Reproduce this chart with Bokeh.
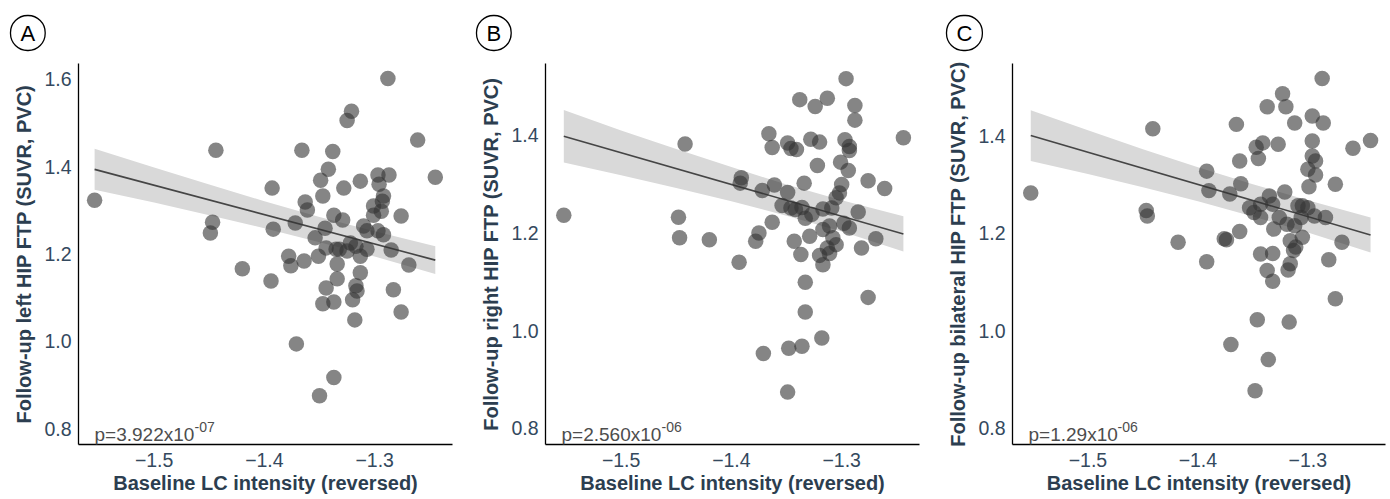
from bokeh.plotting import figure
from bokeh.layouts import row
from bokeh.models import Range1d, FixedTicker, CustomJSTickFormatter, Label
from bokeh.embed import file_html
from bokeh.resources import INLINE

# ---------------- data ----------------
x_ticks = [-1.5, -1.4, -1.3]
a_y_ticks = [0.8, 1.0, 1.2, 1.4, 1.6]
bc_y_ticks = [0.8, 1.0, 1.2, 1.4]

a_x = [-1.554, -1.444, -1.447, -1.449, -1.393, -1.392, -1.420, -1.394,
       -1.288, -1.321, -1.325, -1.261, -1.366, -1.338, -1.245, -1.342, -1.349, -1.313,
       -1.328, -1.347, -1.297, -1.287, -1.296, -1.292, -1.293, -1.301, -1.294, -1.301,
       -1.276, -1.363, -1.361, -1.337, -1.329, -1.372, -1.345, -1.354, -1.310, -1.307,
       -1.297, -1.292, -1.344, -1.335, -1.332, -1.322, -1.317, -1.307, -1.285, -1.378,
       -1.364, -1.351, -1.313, -1.269, -1.376, -1.334, -1.325, -1.313, -1.334, -1.344,
       -1.317, -1.316, -1.320, -1.347, -1.337, -1.283, -1.276, -1.318, -1.371, -1.337, -1.350]
a_y = [1.323, 1.438, 1.273, 1.248, 1.351, 1.257, 1.166, 1.138,
       1.602, 1.527, 1.506, 1.461, 1.438, 1.435, 1.376, 1.394, 1.369, 1.367,
       1.351, 1.333, 1.381, 1.381, 1.360, 1.333, 1.321, 1.310, 1.298, 1.289,
       1.287, 1.319, 1.301, 1.289, 1.278, 1.271, 1.259, 1.237, 1.264, 1.253,
       1.253, 1.244, 1.214, 1.211, 1.211, 1.225, 1.218, 1.211, 1.209, 1.195,
       1.184, 1.195, 1.195, 1.175, 1.173, 1.177, 1.207, 1.157, 1.143, 1.122,
       1.127, 1.115, 1.095, 1.086, 1.090, 1.118, 1.067, 1.049, 0.994, 0.917, 0.875]

b_x = [-1.552, -1.442, -1.448, -1.447, -1.420, -1.393,
       -1.296, -1.338, -1.324, -1.313, -1.288, -1.288, -1.244, -1.366, -1.363, -1.349,
       -1.346, -1.341, -1.328, -1.320, -1.297, -1.293, -1.293, -1.322, -1.301, -1.294,
       -1.391, -1.392, -1.334, -1.276, -1.261, -1.372, -1.361, -1.349, -1.300, -1.302,
       -1.305, -1.354, -1.346, -1.342, -1.336, -1.333, -1.327, -1.317, -1.309, -1.285,
       -1.298, -1.293, -1.363, -1.375, -1.378, -1.343, -1.329, -1.317, -1.311, -1.308,
       -1.305, -1.313, -1.282, -1.269, -1.337, -1.320, -1.311, -1.317, -1.333, -1.276,
       -1.333, -1.318, -1.348, -1.336, -1.371, -1.349]
b_y = [1.236, 1.382, 1.232, 1.190, 1.186, 1.140,
       1.516, 1.473, 1.459, 1.476, 1.461, 1.431, 1.395, 1.403, 1.375, 1.384,
       1.373, 1.371, 1.392, 1.386, 1.391, 1.377, 1.369, 1.338, 1.345, 1.328,
       1.313, 1.302, 1.302, 1.307, 1.291, 1.287, 1.298, 1.283, 1.299, 1.282,
       1.272, 1.256, 1.251, 1.248, 1.252, 1.230, 1.238, 1.249, 1.251, 1.243,
       1.220, 1.210, 1.222, 1.200, 1.183, 1.183, 1.193, 1.207, 1.214, 1.190,
       1.176, 1.169, 1.169, 1.188, 1.156, 1.154, 1.158, 1.135, 1.099, 1.068,
       1.038, 0.985, 0.964, 0.968, 0.953, 0.874]

c_x = [-1.552, -1.441, -1.447, -1.446, -1.418,
       -1.287, -1.323, -1.337, -1.320, -1.296, -1.286, -1.312, -1.365, -1.296, -1.347,
       -1.341, -1.327, -1.259, -1.243, -1.345, -1.362, -1.296, -1.293, -1.300, -1.293,
       -1.392, -1.390, -1.361, -1.299, -1.275, -1.371, -1.321, -1.353, -1.349, -1.343,
       -1.335, -1.332, -1.343, -1.326, -1.319, -1.309, -1.305, -1.300, -1.306, -1.294,
       -1.284, -1.312, -1.331, -1.362, -1.376, -1.374, -1.269, -1.316, -1.305, -1.311,
       -1.313, -1.343, -1.332, -1.392, -1.281, -1.337, -1.332, -1.318, -1.316, -1.275,
       -1.346, -1.317, -1.370, -1.336, -1.348]
c_y = [1.283, 1.415, 1.247, 1.236, 1.182,
       1.518, 1.487, 1.460, 1.460, 1.441, 1.427, 1.427, 1.424, 1.390, 1.377,
       1.386, 1.383, 1.375, 1.391, 1.354, 1.349, 1.359, 1.349, 1.332, 1.320,
       1.328, 1.288, 1.302, 1.296, 1.301, 1.281, 1.285, 1.253, 1.243, 1.233,
       1.277, 1.260, 1.260, 1.233, 1.219, 1.257, 1.257, 1.253, 1.233, 1.236,
       1.233, 1.216, 1.209, 1.204, 1.189, 1.187, 1.182, 1.185, 1.192, 1.172,
       1.165, 1.158, 1.159, 1.142, 1.146, 1.124, 1.102, 1.125, 1.138, 1.066,
       1.023, 1.018, 0.972, 0.941, 0.877]

# regression lines and confidence bands
a_fit_x = [-1.554, -1.245]
a_fit_y = [1.394, 1.186]
a_band_x = [-1.554, -1.50, -1.45, -1.40, -1.35, -1.30, -1.245]
a_band_lo = [1.347, 1.318, 1.289, 1.259, 1.227, 1.194, 1.154]
a_band_hi = [1.441, 1.398, 1.359, 1.321, 1.285, 1.252, 1.218]

b_fit_x = [-1.552, -1.244]
b_fit_y = [1.398, 1.198]
b_band_x = [-1.552, -1.50, -1.45, -1.40, -1.35, -1.30, -1.244]
b_band_lo = [1.344, 1.318, 1.292, 1.265, 1.235, 1.203, 1.162]
b_band_hi = [1.452, 1.410, 1.372, 1.335, 1.299, 1.267, 1.234]

c_fit_x = [-1.552, -1.243]
c_fit_y = [1.401, 1.197]
c_band_x = [-1.552, -1.50, -1.45, -1.40, -1.35, -1.30, -1.243]
c_band_lo = [1.349, 1.322, 1.295, 1.266, 1.235, 1.202, 1.161]
c_band_hi = [1.453, 1.412, 1.373, 1.336, 1.301, 1.268, 1.233]

y_titles = ["Follow-up left HIP FTP (SUVR, PVC)",
            "Follow-up right HIP FTP (SUVR, PVC)",
            "Follow-up bilateral HIP FTP (SUVR, PVC)"]
x_title = "Baseline LC intensity (reversed)"
p_main = ["p=3.922x10", "p=2.560x10", "p=1.29x10"]
p_sup = ["-07", "-06", "-06"]
letters = ["A", "B", "C"]

# ---------------- style ----------------
FONT = "Liberation Sans"
TICK_COLOR = "#34495E"
TITLE_COLOR = "#2C3E50"
H = 499
TOP, BOTTOM = 62, 55

fmt = CustomJSTickFormatter(code="return tick.toFixed(1).replace('-', '\\u2212');")


def panel(xs, ys, fx, fy, bx, blo, bhi, ytitle, yticks, yr, pm, ps, p_off,
          letter, width, left, right, letter_cx):
    xr = (-1.5686, -1.2294)
    p = figure(width=width, height=H, x_range=Range1d(*xr), y_range=Range1d(*yr),
               output_backend="svg", toolbar_location=None,
               min_border_left=left, min_border_right=right,
               min_border_top=TOP, min_border_bottom=BOTTOM)
    p.grid.visible = False
    p.outline_line_color = None
    p.background_fill_color = "white"
    p.border_fill_color = "white"

    p.varea(x=bx, y1=blo, y2=bhi, fill_color="#d9d9d9", fill_alpha=1.0)
    p.line(fx, fy, line_color="#454545", line_width=1.6)
    p.scatter(xs, ys, size=15.5, fill_color="#333333", fill_alpha=0.6, line_color=None)

    p.xaxis.ticker = FixedTicker(ticks=x_ticks)
    p.yaxis.ticker = FixedTicker(ticks=yticks)
    for ax in p.axis:
        ax.formatter = fmt
        ax.major_tick_out = 0
        ax.major_tick_in = 0
        ax.minor_tick_out = 0
        ax.minor_tick_in = 0
        ax.axis_line_color = "black"
        ax.axis_line_width = 1.3
        ax.major_label_text_font = FONT
        ax.major_label_text_font_size = "19.5px"
        ax.major_label_text_color = TICK_COLOR
        ax.axis_label_text_font = FONT
        ax.axis_label_text_font_style = "bold"
        ax.axis_label_text_font_size = "20px"
        ax.axis_label_text_color = TITLE_COLOR
    p.yaxis.major_label_standoff = 7
    p.xaxis.major_label_standoff = 8
    p.yaxis.axis_label_standoff = 6
    p.xaxis.axis_label_standoff = 2
    p.xaxis.axis_label = x_title
    p.yaxis.axis_label = ytitle

    frame_w = width - left - right
    frame_h = H - TOP - BOTTOM
    kx = frame_w / (xr[1] - xr[0])
    ky = frame_h / (yr[1] - yr[0])

    # p-value text (bottom-left, inside the frame)
    px = xr[0] + 16 / kx
    py = yr[0] + 10 / ky
    p.add_layout(Label(x=px, y=py, text=pm, text_font=FONT, text_font_size="19px",
                       text_color="#4D4D4D", text_baseline="alphabetic"))
    p.add_layout(Label(x=px, y=py, x_offset=p_off, y_offset=8, text=ps, text_font=FONT,
                       text_font_size="14px", text_color="#4D4D4D",
                       text_baseline="alphabetic"))

    # circled panel letter, drawn as the figure title with a round border
    t = p.title
    t.text = letter
    t.align = "left"
    t.offset = letter_cx - left - 17
    t.standoff = 26
    t.text_font = FONT
    t.text_font_size = "22px"
    t.text_font_style = "normal"
    t.text_color = "black"
    t.border_line_color = "black"
    t.border_line_width = 1.3
    t.border_radius = 17
    t.padding = (10, 5)
    return p


pa = panel(a_x, a_y, a_fit_x, a_fit_y, a_band_x, a_band_lo, a_band_hi, y_titles[0],
           a_y_ticks, (0.7634, 1.6366), p_main[0], p_sup[0], 100, letters[0],
           470, 78, 18, 27)
pb = panel(b_x, b_y, b_fit_x, b_fit_y, b_band_x, b_band_lo, b_band_hi, y_titles[1],
           bc_y_ticks, (0.7667, 1.547), p_main[1], p_sup[1], 100, letters[1],
           465, 75, 16, 23)
pc = panel(c_x, c_y, c_fit_x, c_fit_y, c_band_x, c_band_lo, c_band_hi, y_titles[2],
           bc_y_ticks, (0.7667, 1.549), p_main[2], p_sup[2], 89, letters[2],
           455, 77, 5, 28)

layout = row(pa, pb, pc)
open("out.html", "w").write(file_html(layout, INLINE))
